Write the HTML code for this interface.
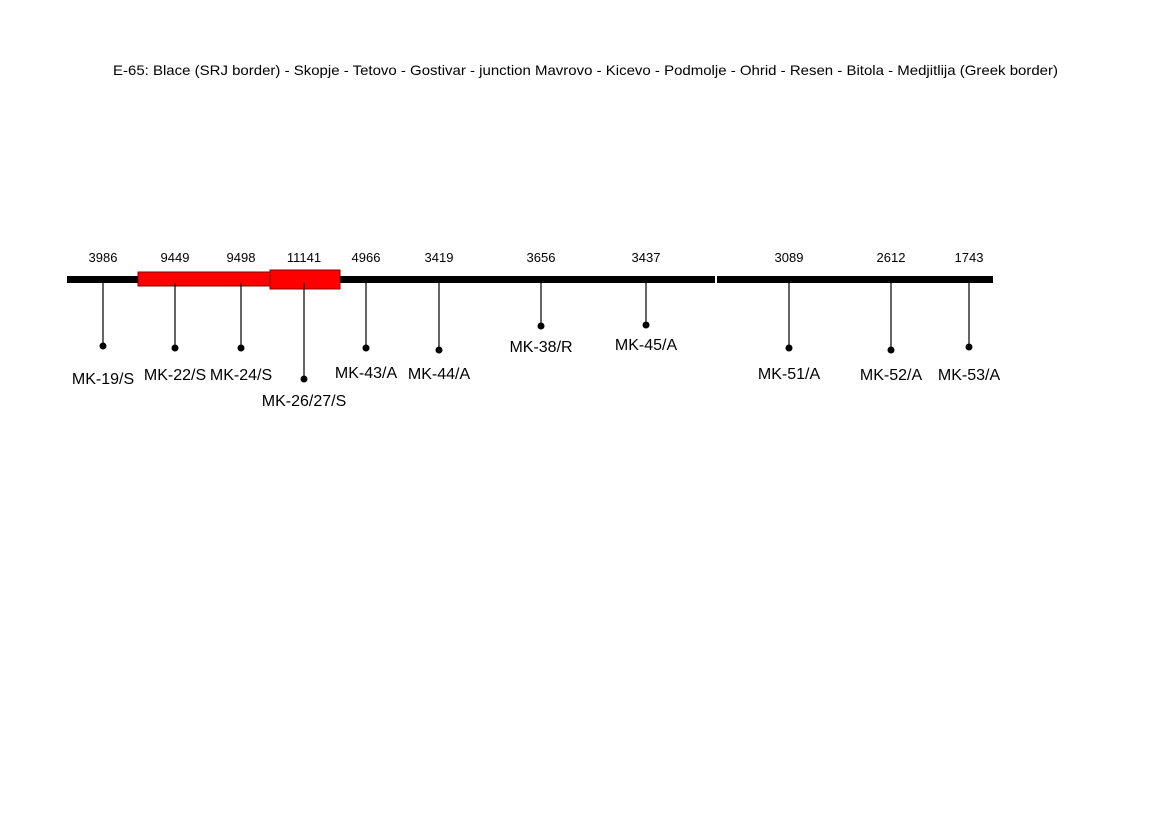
<!DOCTYPE html>
<html><head><meta charset="utf-8">
<style>
body{margin:0;background:#fff;width:1173px;height:823px;overflow:hidden;font-family:"Liberation Sans",sans-serif}
svg text{font-family:"Liberation Sans",sans-serif;fill:#000}
</style></head><body>
<svg id="chart" width="1173" height="823" viewBox="0 0 1173 823">
<text x="113" y="75" font-size="14" textLength="945" lengthAdjust="spacingAndGlyphs">E-65: Blace (SRJ border) - Skopje - Tetovo - Gostivar - junction Mavrovo - Kicevo - Podmolje - Ohrid - Resen - Bitola - Medjitlija (Greek border)</text>
<g id="marks"></g>
</svg>
<script>
const stations = ["MK-19/S","MK-22/S","MK-24/S","MK-26/27/S","MK-43/A","MK-44/A","MK-38/R","MK-45/A","MK-51/A","MK-52/A","MK-53/A"];
const trafficValues = [3986,9449,9498,11141,4966,3419,3656,3437,3089,2612,1743];
const stationX = [103,175,241,304,366,439,541,646,789,891,969];
const dotY = [346,348,348,379,348,350,326,325,348,350,347];
const labelY = [384,380,380,406,378,379,352,350,379,380,380];
const NS="http://www.w3.org/2000/svg";
const g=document.getElementById('marks');
function el(t,a){const e=document.createElementNS(NS,t);for(const k in a)e.setAttribute(k,a[k]);g.appendChild(e);return e;}
let r=el('rect',{x:67,y:276,width:648,height:7,fill:'#000'});


r=el('rect',{x:717,y:276,width:276,height:7,fill:'#000'});


r=el('rect',{x:138,y:272,width:132,height:14,fill:'#f00',stroke:'#800','stroke-width':1});


r=el('rect',{x:270,y:270,width:70,height:19,fill:'#f00',stroke:'#800','stroke-width':1});


stations.forEach((s,i)=>{
  const x=stationX[i];
  let l=el('line',{x1:x,y1:283,x2:x,y2:dotY[i],stroke:'#000','stroke-width':1.2});
  
  
  let c=el('circle',{cx:x,cy:dotY[i],r:3.5,fill:'#000'});
  
  
  let t=el('text',{x:x,y:labelY[i],'text-anchor':'middle','font-size':16});
  t.textContent=s;
  
  
  let v=el('text',{x:x,y:262,'text-anchor':'middle','font-size':13});
  v.textContent=trafficValues[i];
  
  
});
</script>
</body></html>
